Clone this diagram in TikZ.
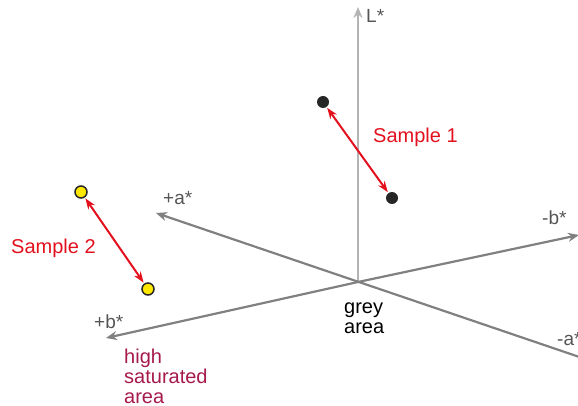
\documentclass[tikz,border=0pt]{standalone}
\usepackage{fontspec}
\setmainfont{Liberation Sans}
\usetikzlibrary{arrows.meta}
\definecolor{axgrey}{HTML}{808080}
\definecolor{lgrey}{HTML}{B4B4B4}
\definecolor{lblgrey}{HTML}{555555}
\definecolor{sred}{HTML}{E3101E}
\definecolor{magenta}{HTML}{A6194B}
\definecolor{dotyellow}{HTML}{FFE800}
\tikzset{
  axis/.style={draw=axgrey, line width=2.2pt, -{Stealth[length=11pt,width=9pt]}},
  laxis/.style={draw=lgrey, line width=2.2pt, -{Stealth[length=11pt,width=9pt]}},
  axlabel/.style={text=lblgrey, font=\fontsize{19}{21}\selectfont, inner sep=0pt},
  samplelabel/.style={text=sred, font=\fontsize{20}{22}\selectfont, inner sep=0pt},
  darkdot/.style={circle, fill=black!85, minimum size=12pt, inner sep=0pt},
  yellowdot/.style={circle, fill=dotyellow, draw=black!85, line width=1.5pt, minimum size=12pt, inner sep=0pt},
  samplearrow/.style={draw=sred, line width=2pt, {Stealth[length=11pt,width=8pt]}-{Stealth[length=11pt,width=8pt]}, shorten <=1pt, shorten >=1pt},
  textline/.style={font=\fontsize{20}{20}\selectfont, inner sep=0pt, anchor=base west}
}
\begin{document}
\begin{tikzpicture}[x=1pt,y=-1pt]
\useasboundingbox (0,0) rectangle (578,406);
\clip (0,0) rectangle (578,406);
\coordinate (O) at (358,282);
\coordinate (Ltip) at (358,7);
\coordinate (Atip) at (156,213);
\coordinate (Aend) at (600,364);
\coordinate (Btip) at (106,338);
\coordinate (Bend) at (579,235);
\draw[laxis] (O) -- (Ltip);
\draw[axis] (Aend) -- (Atip);
\draw[axis] (O) -- (Btip);
\draw[axis] (O) -- (Bend);
\node[axlabel, anchor=west] (Llbl) at (366,16) {L*};
\node[axlabel, anchor=west] (Albl) at (163,198) {+a*};
\node[axlabel, anchor=west] (Blbl) at (94,322) {+b*};
\node[axlabel, anchor=west] (mBlbl) at (542,218) {-b*};
\node[axlabel, anchor=west] (mAlbl) at (557,339) {-a*};
\node[darkdot] (s1a) at (323,102) {};
\node[darkdot] (s1b) at (392,198) {};
\node[yellowdot] (s2a) at (81,192) {};
\node[yellowdot] (s2b) at (148,289) {};
\draw[samplearrow] (s1a) -- (s1b);
\draw[samplearrow] (s2a) -- (s2b);
\node[samplelabel, anchor=west] (s1lbl) at (373,137) {Sample 1};
\node[samplelabel, anchor=west] (s2lbl) at (11,248) {Sample 2};
\node[textline, text=black] (grey1) at (344,313) {grey};
\node[textline, text=black] (grey2) at (344,333) {area};
\node[textline, text=magenta] (high1) at (124,363) {high};
\node[textline, text=magenta] (high2) at (124,383) {saturated};
\node[textline, text=magenta] (high3) at (124,403) {area};
\end{tikzpicture}
\end{document}
